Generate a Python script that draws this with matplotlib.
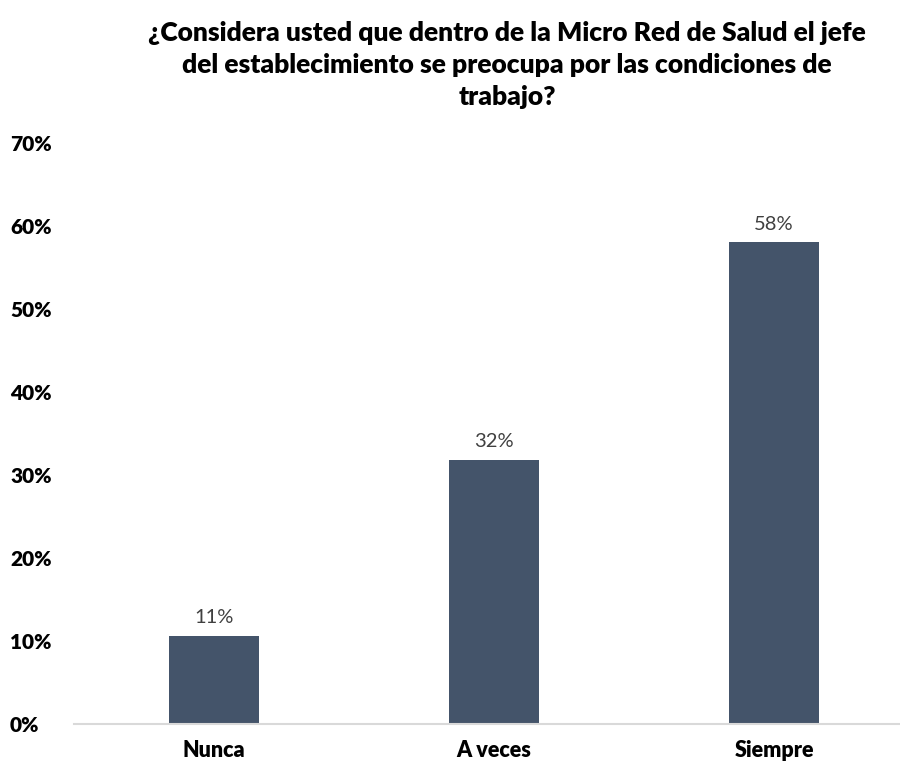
import matplotlib
matplotlib.use("Agg")
import matplotlib.pyplot as plt
from matplotlib.ticker import FuncFormatter

categories = ["Nunca", "A veces", "Siempre"]
values = [10.6, 31.8, 58.0]
value_labels = ["11%", "32%", "58%"]
title = ("¿Considera usted que dentro de la Micro Red de Salud el jefe\n"
         "del establecimiento se preocupa por las condiciones de\n"
         "trabajo?")

plt.rcParams["font.family"] = ["Lato", "DejaVu Sans"]

fig = plt.figure(figsize=(9, 7.63), dpi=100)
ax = fig.add_axes([74 / 900, 1 - 723.7 / 763, 840 / 900, (723.7 - 142.7) / 763])

x = range(len(categories))
ax.bar(x, values, width=0.32, color="#44546A", zorder=2)
for xi, v, lab in zip(x, values, value_labels):
    ax.annotate(lab, (xi, v), xytext=(0, 7), textcoords="offset points",
                ha="center", va="bottom", fontsize=14.5, color="#404040")

ax.set_xlim(-0.5, 2.5)
ax.set_ylim(0, 70)
ax.set_yticks(range(0, 71, 10))
ax.yaxis.set_major_formatter(FuncFormatter(lambda v, _: f"{v:.0f}%"))
ax.set_xticks(list(x))
ax.set_xticklabels(categories)

for s in ("top", "right", "left"):
    ax.spines[s].set_visible(False)
ax.spines["bottom"].set_color("#D9D9D9")
ax.spines["bottom"].set_linewidth(1.5)
ax.tick_params(axis="both", length=0, labelsize=15)
ax.tick_params(axis="x", labelsize=15.5, pad=12)
for t in ax.get_xticklabels() + ax.get_yticklabels():
    t.set_fontweight("heavy")
    t.set_color("black")
for t in ax.get_yticklabels():
    t.set_horizontalalignment("left")
ax.yaxis.set_tick_params(pad=46)

fig.text(507 / 900, 1 - 65 / 763, title, ha="center", va="center",
         fontsize=19, fontweight="heavy", linespacing=1.4)

fig.savefig("out.png", dpi=100)
